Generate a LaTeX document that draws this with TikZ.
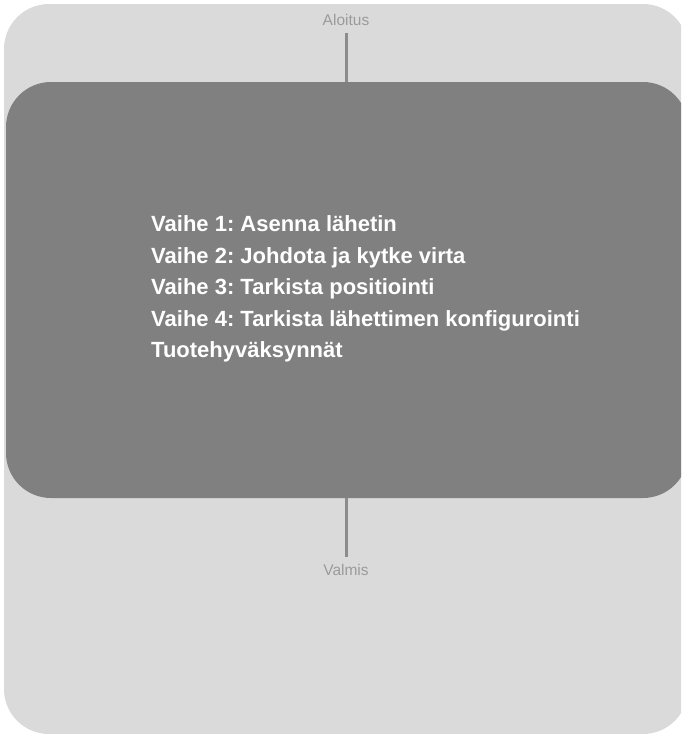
\documentclass[tikz,border=0pt]{standalone}
\usepackage{fontspec}
\setmainfont{Liberation Sans}
\frenchspacing
\definecolor{panelgray}{HTML}{DADADA}
\definecolor{boxgray}{HTML}{808080}
\definecolor{labelgray}{HTML}{9B9B9B}
\definecolor{linegray}{HTML}{8C8C8C}
\tikzset{
  panel/.style={rectangle, rounded corners=45pt, fill=panelgray, inner sep=0pt},
  stepsbox/.style={rectangle, rounded corners=45pt, fill=boxgray, inner sep=0pt},
  endlabel/.style={text=labelgray, font=\fontsize{15.5}{18}\selectfont, inner sep=7pt},
  stepline/.style={text=white, font=\fontsize{22}{26}\selectfont\bfseries, anchor=base west, inner sep=0pt},
  link/.style={draw=linegray, line width=3pt}
}
\begin{document}
\begin{tikzpicture}[x=1pt,y=-1pt]
\useasboundingbox (0,0) rectangle (681,734);
\clip (0,0) rectangle (681,734);
\node[panel, minimum width=684pt, minimum height=730pt] (bg) at (346,369){};
\node[stepsbox, minimum width=682pt, minimum height=416pt] (steps) at (347,290){};
\node[endlabel, anchor=base] (start) at (346,25.5){Aloitus};
\node[endlabel, anchor=base] (done) at (346,575.7){Valmis};
\node[stepline] (step1) at (151,231.5){Vaihe 1: Asenna lähetin};
\node[stepline] (step2) at (151,263.2){Vaihe 2: Johdota ja kytke virta};
\node[stepline] (step3) at (151,294.9){Vaihe 3: Tarkista positiointi};
\node[stepline] (step4) at (151,326.6){Vaihe 4: Tarkista lähettimen konfigurointi};
\node[stepline] (step5) at (151,357.5){Tuotehyväksynnät};
\draw[link] (start.south) -- (start.south |- steps.north);
\draw[link] (done.north |- steps.south) -- (done.north);
\end{tikzpicture}
\end{document}
